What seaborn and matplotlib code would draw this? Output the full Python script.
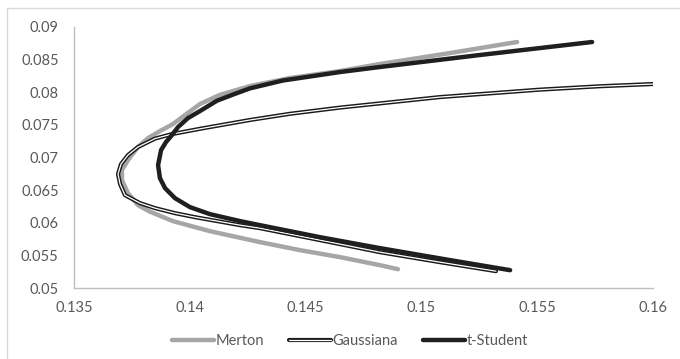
import numpy as np
import pandas as pd
import matplotlib
matplotlib.use("Agg")
import matplotlib.pyplot as plt
import matplotlib.patheffects as pe
from matplotlib.patches import Rectangle
from matplotlib.lines import Line2D
import seaborn as sns

# frontier points (risk on x, return on y)
merton_x = [0.14899, 0.14821, 0.14649, 0.14476, 0.14303, 0.14087, 0.13927, 0.13828,
            0.13776, 0.13733, 0.13707, 0.13707, 0.13733, 0.13776, 0.13820, 0.13871,
            0.13927, 0.13979, 0.14044, 0.14130, 0.14260, 0.14433, 0.14649, 0.14821,
            0.15124, 0.15413]
merton_y = [0.05288, 0.05350, 0.05473, 0.05580, 0.05703, 0.05871, 0.06025, 0.06170,
            0.06270, 0.06454, 0.06653, 0.06807, 0.06960, 0.07160, 0.07298, 0.07405,
            0.07512, 0.07650, 0.07820, 0.07960, 0.08095, 0.08218, 0.08325, 0.08433,
            0.08601, 0.08770]

gauss_x = [0.15322, 0.15080, 0.14821, 0.14649, 0.14433, 0.14303, 0.14217, 0.14022,
           0.13936, 0.13850, 0.13785, 0.13720, 0.13699, 0.13690, 0.13703, 0.13733,
           0.13776, 0.13850, 0.13923, 0.14044, 0.14260, 0.14433, 0.14649, 0.15080,
           0.15512, 0.15771, 0.16000]
gauss_y = [0.05258, 0.05396, 0.05549, 0.05672, 0.05825, 0.05917, 0.05963, 0.06086,
           0.06147, 0.06224, 0.06301, 0.06423, 0.06592, 0.06745, 0.06899, 0.07037,
           0.07160, 0.07290, 0.07359, 0.07440, 0.07575, 0.07670, 0.07765, 0.07926,
           0.08040, 0.08092, 0.08126]

tstud_x = [0.15383, 0.15124, 0.14821, 0.14562, 0.14303, 0.14217, 0.14087, 0.14001,
           0.13936, 0.13893, 0.13871, 0.13863, 0.13876, 0.13897, 0.13923, 0.13949,
           0.13992, 0.14044, 0.14117, 0.14187, 0.14260, 0.14402, 0.14649, 0.14821,
           0.15253, 0.15737]
tstud_y = [0.05273, 0.05427, 0.05611, 0.05779, 0.05963, 0.06025, 0.06132, 0.06239,
           0.06377, 0.06531, 0.06684, 0.06884, 0.07114, 0.07236, 0.07344, 0.07466,
           0.07604, 0.07712, 0.07870, 0.07965, 0.08060, 0.08180, 0.08310, 0.08387,
           0.08571, 0.08770]

x_ticks = [0.135, 0.14, 0.145, 0.15, 0.155, 0.16]
x_labels = ["0.135", "0.14", "0.145", "0.15", "0.155", "0.16"]
y_ticks = [0.05, 0.055, 0.06, 0.065, 0.07, 0.075, 0.08, 0.085, 0.09]
y_labels = ["0.05", "0.055", "0.06", "0.065", "0.07", "0.075", "0.08", "0.085", "0.09"]

sns.set_style("white")
plt.rcParams["font.family"] = ["Lato", "DejaVu Sans"]

TXT = "#595959"
AXC = "#bfbfbf"

fig = plt.figure(figsize=(6.8, 3.59), dpi=100)
ax = fig.add_axes([74 / 680, 1 - 288 / 359, (653 - 74) / 680, (288 - 27) / 359])

# chart area frame (cropped on the right and bottom in the reference)
fig.patches.append(Rectangle((7 / 680, -0.2), 1.2, 0.2 + (1 - 8 / 359),
                             transform=fig.transFigure, fill=False,
                             edgecolor="#d9d9d9", lw=1.0, zorder=0))

series = [
    ("Merton", merton_x, merton_y),
    ("Gaussiana", gauss_x, gauss_y),
    ("t-Student", tstud_x, tstud_y),
]
frames = {name: pd.DataFrame({"risk": xs, "ret": ys}) for name, xs, ys in series}

double = [pe.Stroke(linewidth=3.0, foreground="#1a1a1a"), pe.Normal()]

sns.lineplot(data=frames["Merton"], x="risk", y="ret", sort=False, estimator=None,
             color="#a6a6a6", lw=3.2, solid_capstyle="round", ax=ax, zorder=2)
sns.lineplot(data=frames["Gaussiana"], x="risk", y="ret", sort=False, estimator=None,
             color="white", lw=0.9, solid_capstyle="round", ax=ax, zorder=3,
             path_effects=double)
sns.lineplot(data=frames["t-Student"], x="risk", y="ret", sort=False, estimator=None,
             color="#1f1f1f", lw=3.2, solid_capstyle="round", ax=ax, zorder=4)

ax.set_xlim(0.135, 0.16)
ax.set_ylim(0.05, 0.09)
ax.set_xticks(x_ticks)
ax.set_xticklabels(x_labels)
ax.set_yticks(y_ticks)
ax.set_yticklabels(y_labels)
ax.set_xlabel("")
ax.set_ylabel("")
ax.tick_params(axis="both", length=0, labelsize=10.5, colors=TXT)
ax.tick_params(axis="y", pad=11)
ax.tick_params(axis="x", pad=9)
for s in ["top", "right"]:
    ax.spines[s].set_visible(False)
for s in ["left", "bottom"]:
    ax.spines[s].set_color(AXC)
    ax.spines[s].set_linewidth(1.0)
ax.grid(False)

handles = [
    Line2D([], [], color="#a6a6a6", lw=3.2),
    Line2D([], [], color="white", lw=0.9, path_effects=double),
    Line2D([], [], color="#1f1f1f", lw=3.2),
]
fig.legend(handles, [s[0] for s in series], loc="center", bbox_to_anchor=(350 / 680, 1 - 341 / 359),
           ncol=3, frameon=False, fontsize=10.5, labelcolor=TXT, handlelength=2.9,
           handletextpad=0.1, columnspacing=1.7, borderaxespad=0)

fig.savefig("out.png", dpi=100)
